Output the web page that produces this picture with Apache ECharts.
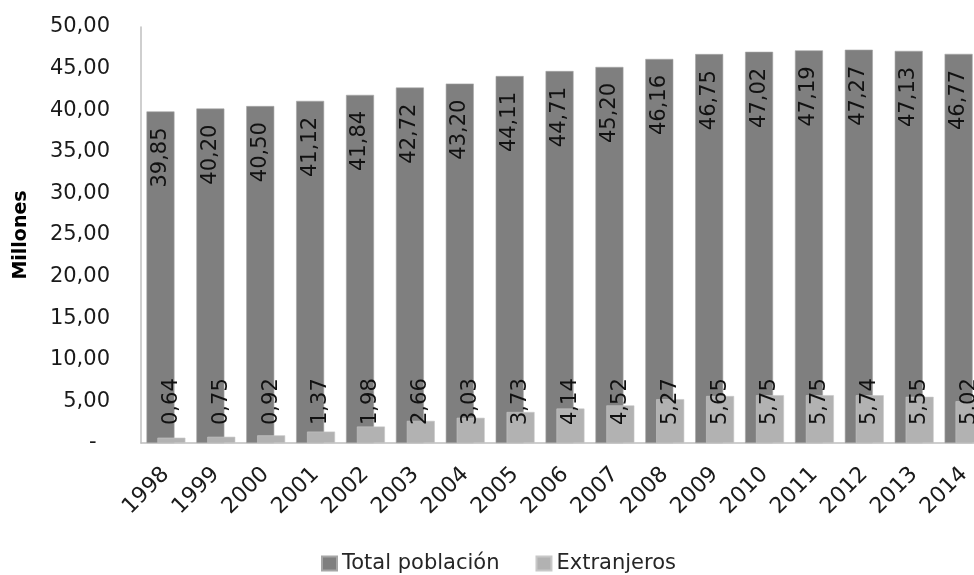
<!DOCTYPE html>
<html>
<head>
<meta charset="utf-8">
<script src="https://cdn.jsdelivr.net/npm/echarts@6/dist/echarts.min.js"></script>
<style>html,body{margin:0;padding:0;background:#fff}#c{width:974px;height:575px}</style>
</head>
<body>
<div id="c"></div>
<script>
var years = ['1998','1999','2000','2001','2002','2003','2004','2005','2006','2007','2008','2009','2010','2011','2012','2013','2014'];
var totalPoblacion = [39.85,40.20,40.50,41.12,41.84,42.72,43.20,44.11,44.71,45.20,46.16,46.75,47.02,47.19,47.27,47.13,46.77];
var extranjeros = [0.64,0.75,0.92,1.37,1.98,2.66,3.03,3.73,4.14,4.52,5.27,5.65,5.75,5.75,5.74,5.55,5.02];
var seriesNames = ['Total población','Extranjeros'];
var yAxisName = 'Millones';

var FONT = 'DejaVu Sans';
function fmt(v){ return v.toFixed(2).replace('.', ','); }

var chart = echarts.init(document.getElementById('c'));
chart.setOption({
  animation: false,
  textStyle: { fontFamily: FONT },
  grid: { left: 141, top: 27, bottom: 132, right: -15, containLabel: false, outerBoundsMode: 'none' },
  legend: {
    left: 316, bottom: -4,
    itemWidth: 15, itemHeight: 14, itemGap: 36,
    icon: 'rect',
    textStyle: { fontFamily: FONT, fontSize: 21, color: '#262626' },
    data: seriesNames
  },
  xAxis: {
    type: 'category',
    data: years,
    axisLine: { lineStyle: { color: '#bfbfbf', width: 1.5 } },
    axisTick: { show: false },
    axisLabel: { rotate: 45, margin: 28, fontSize: 22, color: '#1a1a1a', fontFamily: FONT, interval: 0 }
  },
  yAxis: {
    type: 'value',
    min: 0, max: 50, interval: 5,
    name: yAxisName,
    nameLocation: 'middle',
    nameGap: 110,
    nameRotate: 90,
    nameTextStyle: { fontFamily: FONT, fontSize: 19, fontWeight: 'bold', color: '#000' },
    axisLine: { show: true, lineStyle: { color: '#bfbfbf', width: 1.5 } },
    axisTick: { show: false },
    splitLine: { show: false },
    axisLabel: {
      margin: 31, fontSize: 21, color: '#1a1a1a', fontFamily: FONT,
      formatter: function (v) { return v === 0 ? '-  ' : fmt(v); }
    }
  },
  series: [
    {
      name: seriesNames[0], type: 'bar', data: totalPoblacion,
      barGap: '-61%', barCategoryGap: '22%',
      itemStyle: { color: '#7f7f7f', borderColor: '#a6a6a6', borderWidth: 0.6 },
      label: {
        show: true, position: 'insideTop', rotate: 90, distance: 16,
        align: 'right', verticalAlign: 'middle',
        fontSize: 21, color: '#111', fontFamily: FONT,
        formatter: function (p) { return fmt(p.value); }
      }
    },
    {
      name: seriesNames[1], type: 'bar', data: extranjeros,
      barGap: '-61%', barCategoryGap: '22%',
      itemStyle: { color: '#b2b2b2', borderColor: '#c8c8c8', borderWidth: 0.6 },
      label: {
        show: true, position: 'insideBottom', rotate: 90, distance: 18,
        align: 'left', verticalAlign: 'middle',
        fontSize: 21, color: '#111', fontFamily: FONT,
        formatter: function (p) { return fmt(p.value); }
      }
    }
  ]
});
</script>
</body>
</html>
